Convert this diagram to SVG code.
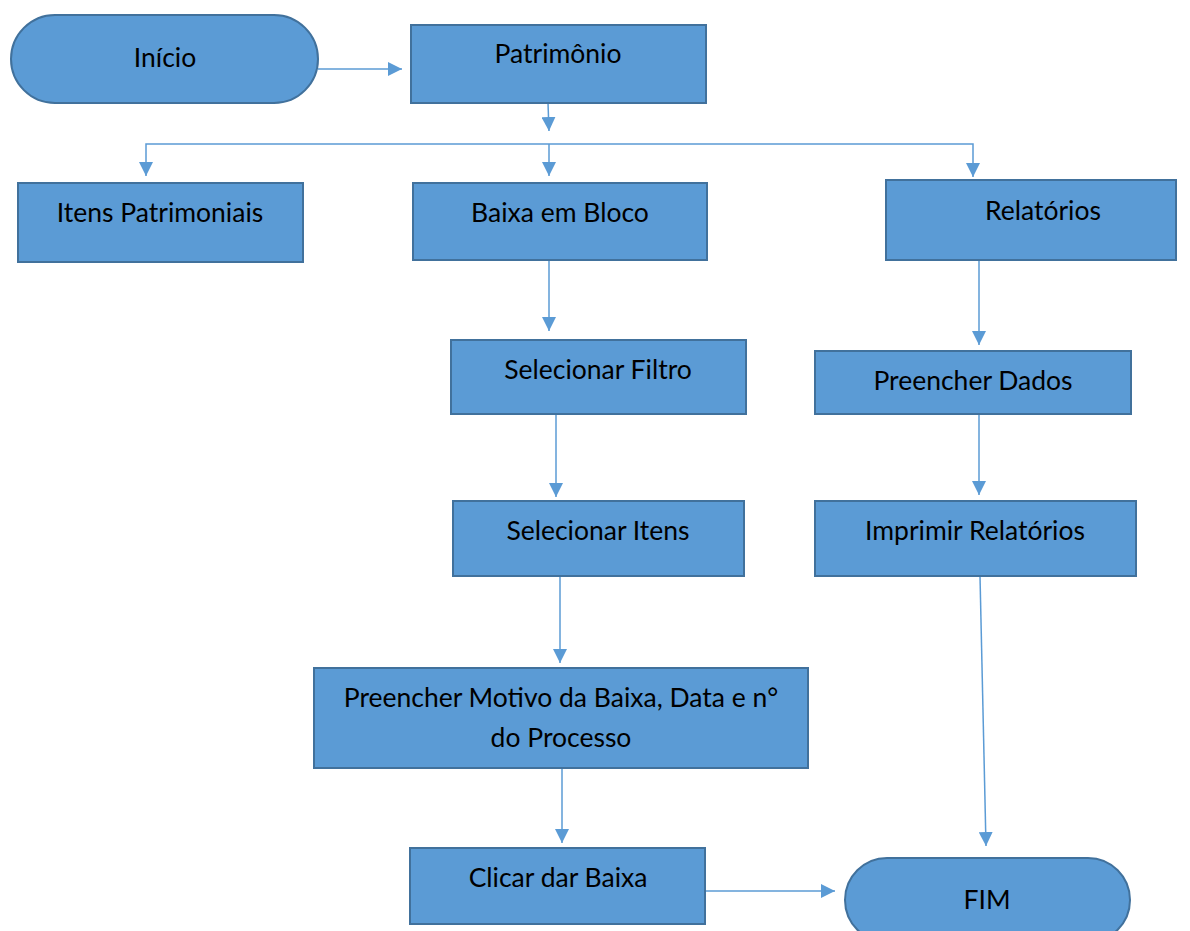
<svg xmlns="http://www.w3.org/2000/svg" width="1190" height="931" viewBox="0 0 1190 931">
  <defs>
    <marker id="arrow" viewBox="0 0 10 10" refX="10" refY="5" markerWidth="14" markerHeight="14" markerUnits="userSpaceOnUse" orient="auto">
      <path d="M0,0 L10,5 L0,10 Z" fill="#5B9BD5"/>
    </marker>
    <style>
      .box { fill: #5B9BD5; stroke: #41719C; stroke-width: 2; }
      .lbl { font-family: Lato, "Open Sans", "Liberation Sans", sans-serif; font-size: 26.5px; fill: #000; text-anchor: middle; }
      .conn path { fill: none; stroke: #5B9BD5; stroke-width: 1.5; marker-end: url(#arrow); }
    </style>
  </defs>
  <rect width="1190" height="931" fill="#fff"/>

  <!-- connectors -->
  <g id="connectors" class="conn">
    <path d="M318,69 H402"/>
    <path d="M548,103 L549,131"/>
    <path d="M549,144 H973 V177"/>
    <path d="M549,144 H146 V176"/>
    <path d="M549,144 V176"/>
    <path d="M549,260 V331"/>
    <path d="M556,414 V497"/>
    <path d="M560,576 V663"/>
    <path d="M562,768 V843"/>
    <path d="M705,891 H835"/>
    <path d="M979,260 V345"/>
    <path d="M979,414 V495"/>
    <path d="M980,576 L986,846"/>
  </g>

  <g id="inicio">
    <rect class="box" x="11" y="15" width="307" height="88" rx="44" ry="44"/>
    <text class="lbl" x="165" y="67">Início</text>
  </g>
  <g id="patrimonio">
    <rect class="box" x="411" y="25" width="295" height="78"/>
    <text class="lbl" x="558" y="63">Patrimônio</text>
  </g>
  <g id="itens-patrimoniais">
    <rect class="box" x="18" y="183" width="285" height="79"/>
    <text class="lbl" x="160" y="222">Itens Patrimoniais</text>
  </g>
  <g id="baixa-em-bloco">
    <rect class="box" x="413" y="183" width="294" height="77"/>
    <text class="lbl" x="560" y="222">Baixa em Bloco</text>
  </g>
  <g id="relatorios">
    <rect class="box" x="886" y="180" width="290" height="80"/>
    <text class="lbl" x="1043" y="220">Relatórios</text>
  </g>
  <g id="selecionar-filtro">
    <rect class="box" x="451" y="340" width="295" height="74"/>
    <text class="lbl" x="598" y="379">Selecionar Filtro</text>
  </g>
  <g id="preencher-dados">
    <rect class="box" x="815" y="351" width="316" height="63"/>
    <text class="lbl" x="973" y="390">Preencher Dados</text>
  </g>
  <g id="selecionar-itens">
    <rect class="box" x="453" y="501" width="291" height="75"/>
    <text class="lbl" x="598" y="540">Selecionar Itens</text>
  </g>
  <g id="imprimir-relatorios">
    <rect class="box" x="815" y="501" width="321" height="75"/>
    <text class="lbl" x="975" y="540">Imprimir Relatórios</text>
  </g>
  <g id="preencher-motivo">
    <rect class="box" x="314" y="668" width="494" height="100"/>
    <text class="lbl" x="561" y="707">Preencher Motivo da Baixa, Data e n°</text>
    <text class="lbl" x="561" y="747">do Processo</text>
  </g>
  <g id="clicar-dar-baixa">
    <rect class="box" x="410" y="848" width="295" height="76"/>
    <text class="lbl" x="558" y="887">Clicar dar Baixa</text>
  </g>
  <g id="fim">
    <rect class="box" x="845" y="858" width="285" height="84" rx="42" ry="42"/>
    <text class="lbl" x="987" y="909">FIM</text>
  </g>
</svg>
